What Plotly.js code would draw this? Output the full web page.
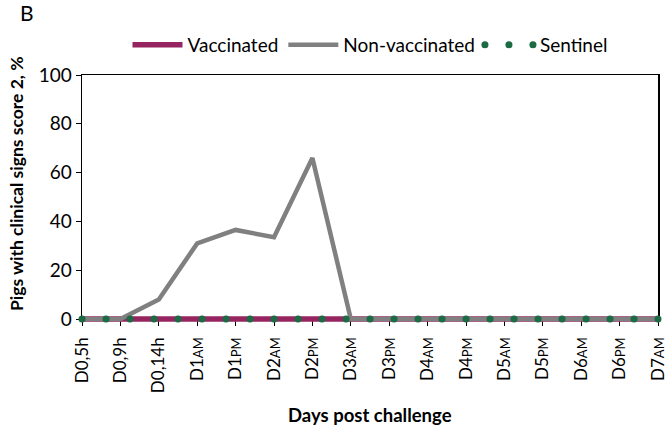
<!DOCTYPE html>
<html>
<head>
<meta charset="utf-8">
<script src="https://cdn.plot.ly/plotly-3.0.1.min.js"></script>
<style>
html, body { margin: 0; padding: 0; background: #fff; }
#chart { width: 671px; height: 431px; }
.sentinel-round path.js-line, .sentinel-round path { stroke-linecap: round; }
</style>
</head>
<body>
<div id="chart"></div>
<script>
// Categories (time points)
var categories = ["D0,5h","D0,9h","D0,14h","D1AM","D1PM","D2AM","D2PM","D3AM","D3PM","D4AM","D4PM","D5AM","D5PM","D6AM","D6PM","D7AM"];
var SC = "<span style='font-size:13px'>";
var tickLabels = ["D0,5h","D0,9h","D0,14h",
  "D1"+SC+"AM</span>","D1"+SC+"PM</span>",
  "D2"+SC+"AM</span>","D2"+SC+"PM</span>",
  "D3"+SC+"AM</span>","D3"+SC+"PM</span>",
  "D4"+SC+"AM</span>","D4"+SC+"PM</span>",
  "D5"+SC+"AM</span>","D5"+SC+"PM</span>",
  "D6"+SC+"AM</span>","D6"+SC+"PM</span>",
  "D7"+SC+"AM</span>"];
// Series values (% pigs with clinical signs score 2)
var vaccinated    = [0,0,0,0,0,0,0,0,0,0,0,0,0,0,0,0];
var nonVaccinated = [0,0,8,31,36.5,33.5,66,0,0,0,0,0,0,0,0,0];
var sentinel      = [0,0,0,0,0,0,0,0,0,0,0,0,0,0,0,0];

var xIdx = categories.map(function(c, i){ return i; });

var FONT = "Lato, 'Open Sans', sans-serif";

var traces = [
  { x: xIdx, y: vaccinated, name: "Vaccinated", type: "scatter", mode: "lines",
    line: { color: "#962460", width: 5.5 }, cliponaxis: false },
  { x: xIdx, y: nonVaccinated, name: "Non-vaccinated", type: "scatter", mode: "lines",
    line: { color: "#808080", width: 4.5 }, cliponaxis: false },
  { x: xIdx, y: sentinel, name: "Sentinel", type: "scatter", mode: "lines",
    line: { color: "#1c6b45", width: 7, dash: "0.1px,23.9px" }, cliponaxis: false }
];

var layout = {
  width: 671, height: 431,
  margin: { l: 82, r: 13, t: 75, b: 112 },
  paper_bgcolor: "#fff", plot_bgcolor: "#fff",
  font: { family: FONT, color: "#000", size: 17 },
  showlegend: true,
  legend: {
    orientation: "h", x: 0.5, xanchor: "center", y: 1.123, yanchor: "middle",
    font: { family: FONT, size: 19, color: "#000" },
    itemwidth: 50, traceorder: "normal", tracegroupgap: 0
  },
  xaxis: {
    range: [0, 15],
    tickmode: "array", tickvals: xIdx, ticktext: tickLabels,
    tickangle: -90, tickfont: { family: FONT, size: 17, color: "#000" },
    ticks: "outside", ticklen: 5, tickcolor: "#000", tickwidth: 1,
    ticklabelstandoff: 5,
    showline: true, linecolor: "#000", linewidth: 1.5, mirror: true,
    layer: "below traces",
    showgrid: false, zeroline: false
  },
  yaxis: {
    range: [0, 100], tickvals: [0,20,40,60,80,100],
    tickfont: { family: FONT, size: 19, color: "#000" },
    ticks: "outside", ticklen: 5, tickcolor: "#000", tickwidth: 1,
    showline: true, linecolor: "#000", linewidth: 1.5, mirror: true,
    layer: "below traces",
    showgrid: false, zeroline: false
  },
  annotations: [
    { text: "B", xref: "paper", yref: "paper", x: -0.111, y: 1.258, xanchor: "left", yanchor: "middle",
      showarrow: false, font: { family: FONT, size: 21, color: "#000" } },
    { text: "<b>Days post challenge</b>", xref: "paper", yref: "paper", x: 0.5, y: -0.393,
      xanchor: "center", yanchor: "middle", showarrow: false,
      font: { family: FONT, size: 18.5, color: "#000" } },
    { text: "<b>Pigs with clinical signs score 2, %</b>", xref: "paper", yref: "paper",
      x: -0.1146, y: 0.557, xanchor: "center", yanchor: "middle", textangle: -90, showarrow: false,
      font: { family: FONT, size: 17.5, color: "#000" } }
  ]
};

Plotly.newPlot("chart", traces, layout, { displayModeBar: false, staticPlot: true }).then(function(gd){
  // let the lines lying on the axis show at full thickness (as in the reference)
  gd.querySelectorAll(".cartesianlayer [clip-path]").forEach(function(el){ el.removeAttribute("clip-path"); });
  var tr = gd.querySelectorAll(".scatterlayer .trace");
  if (tr[2]) tr[2].classList.add("sentinel-round");
  var lg = gd.querySelectorAll(".legend .traces");
  if (lg[2]) lg[2].classList.add("sentinel-round");
});
</script>
</body>
</html>
